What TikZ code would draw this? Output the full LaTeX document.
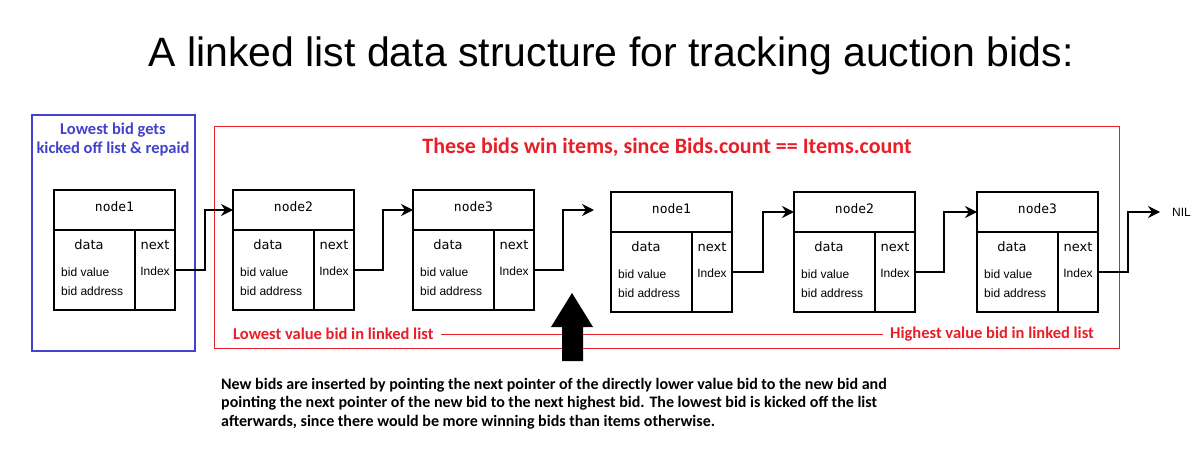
\documentclass[tikz,border=0pt]{standalone}
\usepackage{fontspec}
\setmainfont{Liberation Sans}
\newfontfamily\calfont{Carlito}
\newfontfamily\djfont{DejaVu Sans}
\newfontfamily\djmono{DejaVu Sans Mono}
\usetikzlibrary{arrows.meta}
\definecolor{bidred}{RGB}{232,30,40}
\definecolor{bidblue}{RGB}{66,66,204}
\tikzset{
  cellbox/.style={draw=black, line width=2.2pt, inner sep=0pt, outer sep=0pt},
  hdrlbl/.style={font=\djmono\fontsize{13}{15}\selectfont, inner sep=0pt},
  fieldlbl/.style={font=\djfont\fontsize{13}{15}\selectfont, inner sep=0pt},
  bidtxt/.style={font=\fontsize{12}{14}\selectfont, inner sep=0pt},
  ptr/.style={draw=black, line width=2.2pt, -{Stealth[length=12pt,width=12pt,inset=4pt]}},
  redlbl/.style={font=\calfont\bfseries\fontsize{16.5}{19}\selectfont, text=bidred, inner sep=0pt},
}
\newcommand{\listnode}[4]{%
  \node[cellbox, anchor=north west, minimum width=121pt, minimum height=40pt] (#1-h) at (#2,#3) {};
  \node[cellbox, anchor=north west, minimum width=81pt, minimum height=80pt] (#1-d) at (#1-h.south west) {};
  \node[cellbox, anchor=north east, minimum width=40pt, minimum height=80pt] (#1-n) at (#1-h.south east) {};
  \node[hdrlbl] (#1-lbl) at (#2+60.5,#3+17) {#4};
  \node[fieldlbl] (#1-data) at (#2+35,#3+55) {data};
  \node[fieldlbl] (#1-next) at (#2+101,#3+55) {next};
  \node[bidtxt, anchor=west] (#1-bv) at (#2+7,#3+82) {bid value};
  \node[bidtxt, anchor=west] (#1-ba) at (#2+7,#3+101) {bid address};
  \node[bidtxt] (#1-idx) at (#2+101,#3+81) {Index};
  \coordinate (#1-i) at (#2+121,#3+80);
}
\begin{document}
\begin{tikzpicture}[x=1pt,y=-1pt]
\useasboundingbox[fill=white] (0,0) rectangle (1203,450);

% title
\node[font=\fontsize{41}{45}\selectfont, inner sep=0pt] (title) at (611,56) {A linked list data structure for tracking auction bids:};

% frames
\draw[bidblue, line width=1.2pt] (32,115) rectangle (195,351);
\draw[bidred, line width=1pt] (214,126) rectangle (1119,348);

\node[font=\calfont\bfseries\fontsize{16.5}{19}\selectfont, text=bidblue, align=center, inner sep=0pt] (kicked) at (113,139.5) {Lowest bid gets\\kicked off list \& repaid};
\node[font=\calfont\bfseries\fontsize{22}{25}\selectfont, text=bidred, inner sep=0pt] (wins) at (667,147) {These bids win items, since Bids.count == Items.count};

% list nodes
\listnode{L1}{54}{190}{node1}
\listnode{L2}{233}{190}{node2}
\listnode{L3}{413}{190}{node3}
\listnode{R1}{611}{192}{node1}
\listnode{R2}{794}{192}{node2}
\listnode{R3}{977}{192}{node3}

\coordinate (gapend) at (594,210);
\node[font=\fontsize{12}{14}\selectfont, anchor=west, inner sep=0pt] (nil) at (1172,212) {NIL};

\draw[ptr] (L1-i) -- ++(30,0) |- (L2-h.west);
\draw[ptr] (L2-i) -- ++(29,0) |- (L3-h.west);
\draw[ptr] (L3-i) -- ++(29,0) |- (gapend);
\draw[ptr] (R1-i) -- ++(31,0) |- (R2-h.west);
\draw[ptr] (R2-i) -- ++(29,0) |- (R3-h.west);
\draw[ptr, shorten >=12pt] (R3-i) -- ++(30,0) |- (nil.west);

% range labels
\node[redlbl, anchor=west] (low) at (233,334) {Lowest value bid in linked list};
\node[redlbl, anchor=east] (high) at (1094,334) {Highest value bid in linked list};
\draw[bidred, line width=1pt, shorten <=7pt, shorten >=7pt] (low.east) -- (high.west);

% big insertion arrow
\fill[black] (562,361) -- (562,327) -- (551,327) -- (572,293) -- (593,327) -- (583,327) -- (583,361) -- cycle;

% explanation
\node[font=\calfont\bfseries\fontsize{16}{18.5}\selectfont, align=left, anchor=north west, inner sep=0pt] (expl) at (221,378) {New bids are inserted by pointing the next pointer of the directly lower value bid to the new bid and\\pointing the next pointer of the new bid to the next highest bid. The lowest bid is kicked off the list\\afterwards, since there would be more winning bids than items otherwise.};
\end{tikzpicture}
\end{document}
